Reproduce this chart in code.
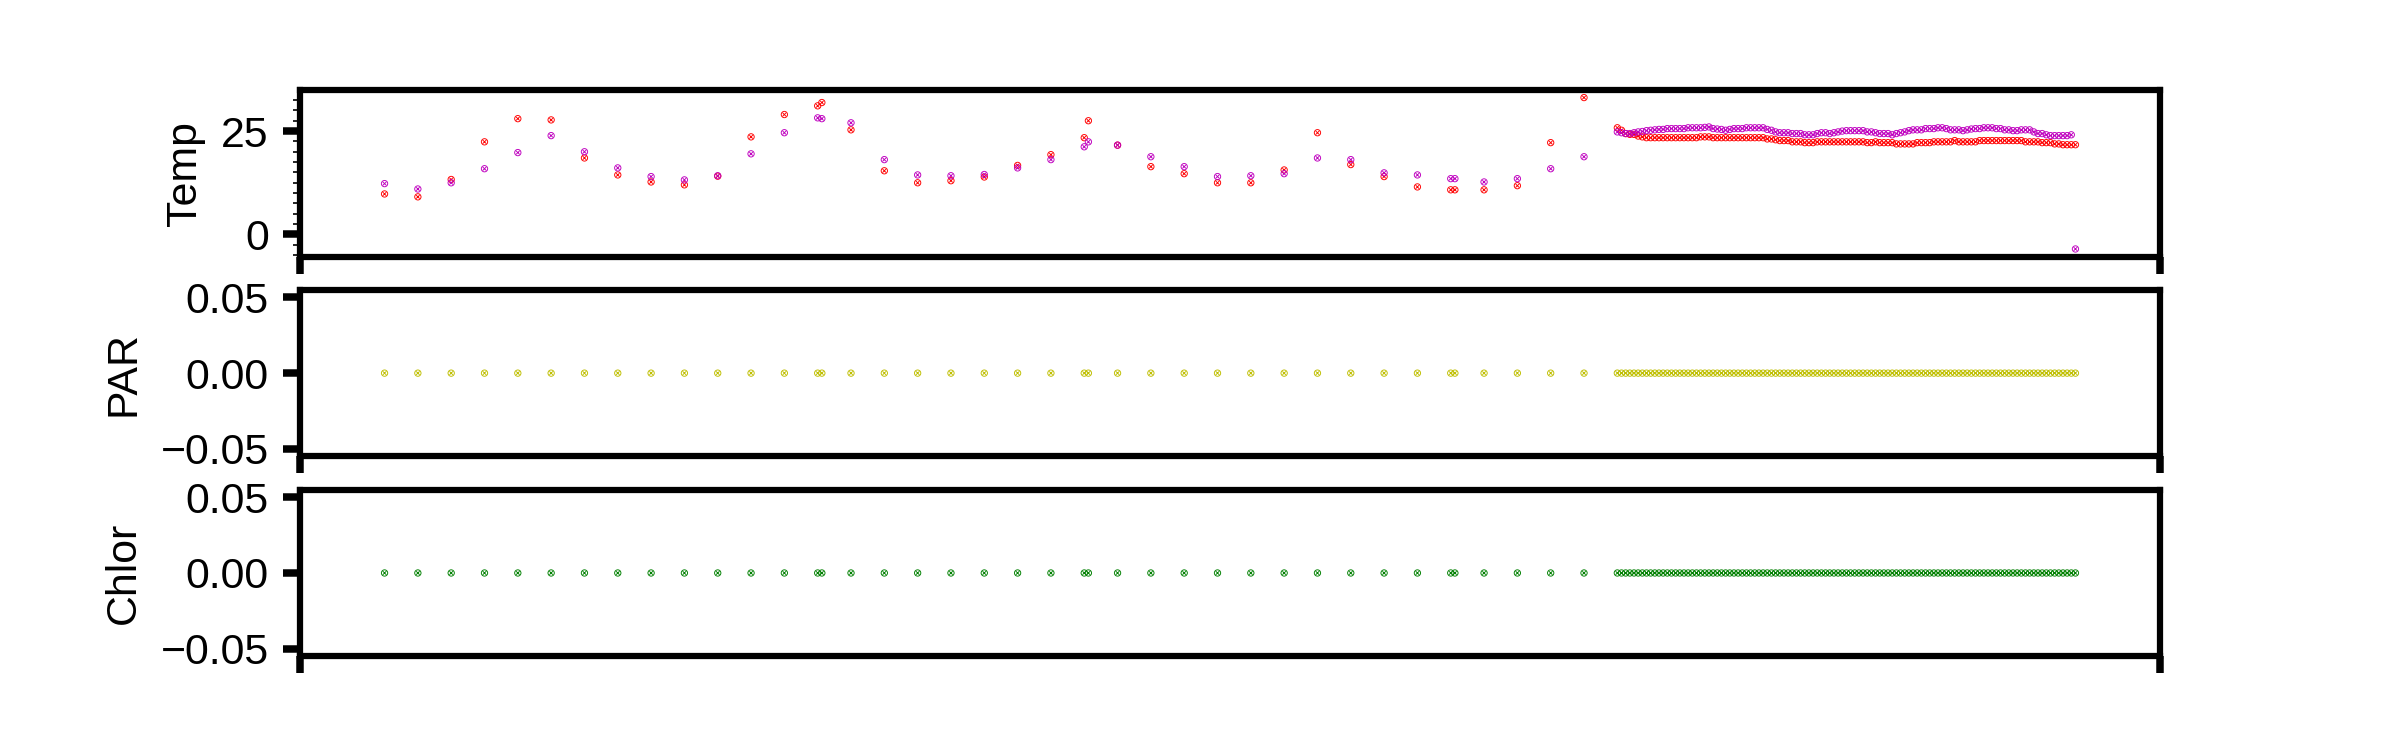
import numpy as np, pandas as pd, seaborn as sns, matplotlib.pyplot as plt
from matplotlib.path import Path
from matplotlib.ticker import MultipleLocator

plt.rcParams['font.family'] = ['Liberation Sans', 'DejaVu Sans']

# sampling days: sparse samples (every ~8 days, a few doubled) then a daily run
sparse_days = [0, 8, 16, 24, 32, 40, 48, 56, 64, 72, 80, 88, 96, 104, 105, 112, 120, 128, 136, 144,
               152, 160, 168, 169, 176, 184, 192, 200, 208, 216, 224, 232, 240, 248, 256, 257, 264, 272, 280, 288]
dense_days = list(np.arange(296, 407))
days = sparse_days + dense_days

temp_red = [9.8, 9.1, 13.3, 22.4, 28.0, 27.7, 18.5, 14.4, 12.7, 12.0,
            14.1, 23.6, 29.0, 31.1, 31.9, 25.3, 15.4, 12.5, 13.0, 13.9,
            16.7, 19.3, 23.4, 27.5, 21.6, 16.4, 14.7, 12.5, 12.5, 15.6,
            24.6, 16.9, 14.0, 11.5, 10.8, 10.8, 10.8, 11.8, 22.2, 33.1,
            # daily run
            25.8, 25.2, 24.4, 24.2, 24.2, 23.8, 23.6, 23.4, 23.4, 23.4,
            23.4, 23.4, 23.4, 23.4, 23.4, 23.4, 23.4, 23.4, 23.4, 23.4,
            23.6, 23.6, 23.6, 23.4, 23.4, 23.4, 23.4, 23.4, 23.4, 23.4,
            23.4, 23.4, 23.4, 23.4, 23.4, 23.4, 23.1, 23.1, 22.9, 22.7,
            22.7, 22.7, 22.4, 22.4, 22.4, 22.2, 22.2, 22.2, 22.4, 22.4,
            22.4, 22.4, 22.4, 22.4, 22.4, 22.4, 22.4, 22.4, 22.4, 22.4,
            22.2, 22.2, 22.4, 22.2, 22.2, 22.2, 22.2, 21.9, 21.9, 21.9,
            21.9, 21.9, 22.2, 22.2, 22.2, 22.2, 22.4, 22.4, 22.4, 22.4,
            22.4, 22.7, 22.4, 22.4, 22.4, 22.4, 22.4, 22.7, 22.7, 22.7,
            22.7, 22.7, 22.7, 22.7, 22.7, 22.7, 22.7, 22.7, 22.4, 22.4,
            22.4, 22.4, 22.2, 22.2, 22.2, 21.9, 21.9, 21.7, 21.7, 21.7,
            21.7]

temp_purple = [12.3, 11.0, 12.5, 15.9, 19.8, 23.9, 20.0, 16.1, 14.0, 13.2,
               14.2, 19.5, 24.6, 28.2, 28.0, 27.0, 18.1, 14.4, 14.2, 14.5,
               16.1, 18.1, 21.2, 22.4, 21.6, 18.8, 16.4, 14.0, 14.2, 14.7,
               18.5, 18.1, 14.9, 14.4, 13.5, 13.5, 12.7, 13.5, 15.9, 18.8,
               # daily run
               24.8, 24.6, 24.4, 24.4, 24.6, 24.8, 24.9, 25.1, 25.2, 25.3,
               25.4, 25.4, 25.6, 25.6, 25.6, 25.6, 25.6, 25.8, 25.8, 25.8,
               25.8, 25.9, 26.0, 25.6, 25.5, 25.4, 25.2, 25.4, 25.6, 25.6,
               25.6, 25.8, 25.8, 25.8, 25.8, 25.8, 25.4, 25.2, 24.8, 24.6,
               24.6, 24.6, 24.4, 24.4, 24.4, 24.1, 24.1, 24.1, 24.4, 24.6,
               24.6, 24.4, 24.6, 24.8, 25.0, 25.1, 25.1, 25.1, 25.1, 25.1,
               24.8, 24.8, 24.6, 24.4, 24.4, 24.4, 24.1, 24.4, 24.6, 24.8,
               25.1, 25.3, 25.3, 25.3, 25.6, 25.6, 25.6, 25.8, 25.8, 25.6,
               25.3, 25.3, 25.3, 25.1, 25.3, 25.5, 25.6, 25.6, 25.8, 25.8,
               25.8, 25.6, 25.6, 25.3, 25.3, 25.1, 25.1, 25.3, 25.3, 25.3,
               24.8, 24.4, 24.4, 24.1, 23.9, 23.9, 23.9, 23.9, 23.9, 24.1,
               -3.5]

par = [0.0] * len(days)
chlor = [0.0] * len(days)

# circle with a cross inside
otimes = Path.make_compound_path(
    Path.unit_circle(),
    Path([(-0.55, -0.55), (0.55, 0.55), (-0.55, 0.55), (0.55, -0.55)],
         [Path.MOVETO, Path.LINETO, Path.MOVETO, Path.LINETO]))

fig, axs = plt.subplots(3, 1, figsize=(8, 2.5), dpi=300, sharex=True)
fig.subplots_adjust(left=0.125, right=0.9, top=0.88, bottom=0.125, hspace=0.2)

def dots(ax, y, col):
    sns.scatterplot(x=days, y=y, ax=ax, marker=otimes, s=2.3, color=col,
                    edgecolor=col, facecolor='none', linewidth=0.22)

dots(axs[0], temp_red, 'r')
dots(axs[0], temp_purple, 'm')
dots(axs[1], par, 'y')
dots(axs[2], chlor, 'g')

for ax, lab in zip(axs, ['Temp', 'PAR', 'Chlor']):
    ax.set_ylabel(lab, fontsize=10.3, labelpad=4)
    ax.set_xlabel('')
    for s in ax.spines.values():
        s.set_linewidth(1.5)
    ax.tick_params(axis='both', which='major', length=4, width=1.8, labelsize=10.3, pad=3.5)
    ax.tick_params(axis='y', which='minor', length=1.75, width=0.4)

axs[0].yaxis.set_major_locator(MultipleLocator(25))
axs[0].yaxis.set_minor_locator(MultipleLocator(2.5))
for ax in axs[1:]:
    ax.set_yticks([-0.05, 0.0, 0.05])

lo, hi = axs[2].get_xlim()
for ax in axs:
    ax.set_xticks([lo, hi])
    ax.set_xticklabels([])
    ax.set_xlim(lo, hi)

fig.savefig('out.png', dpi=300)
